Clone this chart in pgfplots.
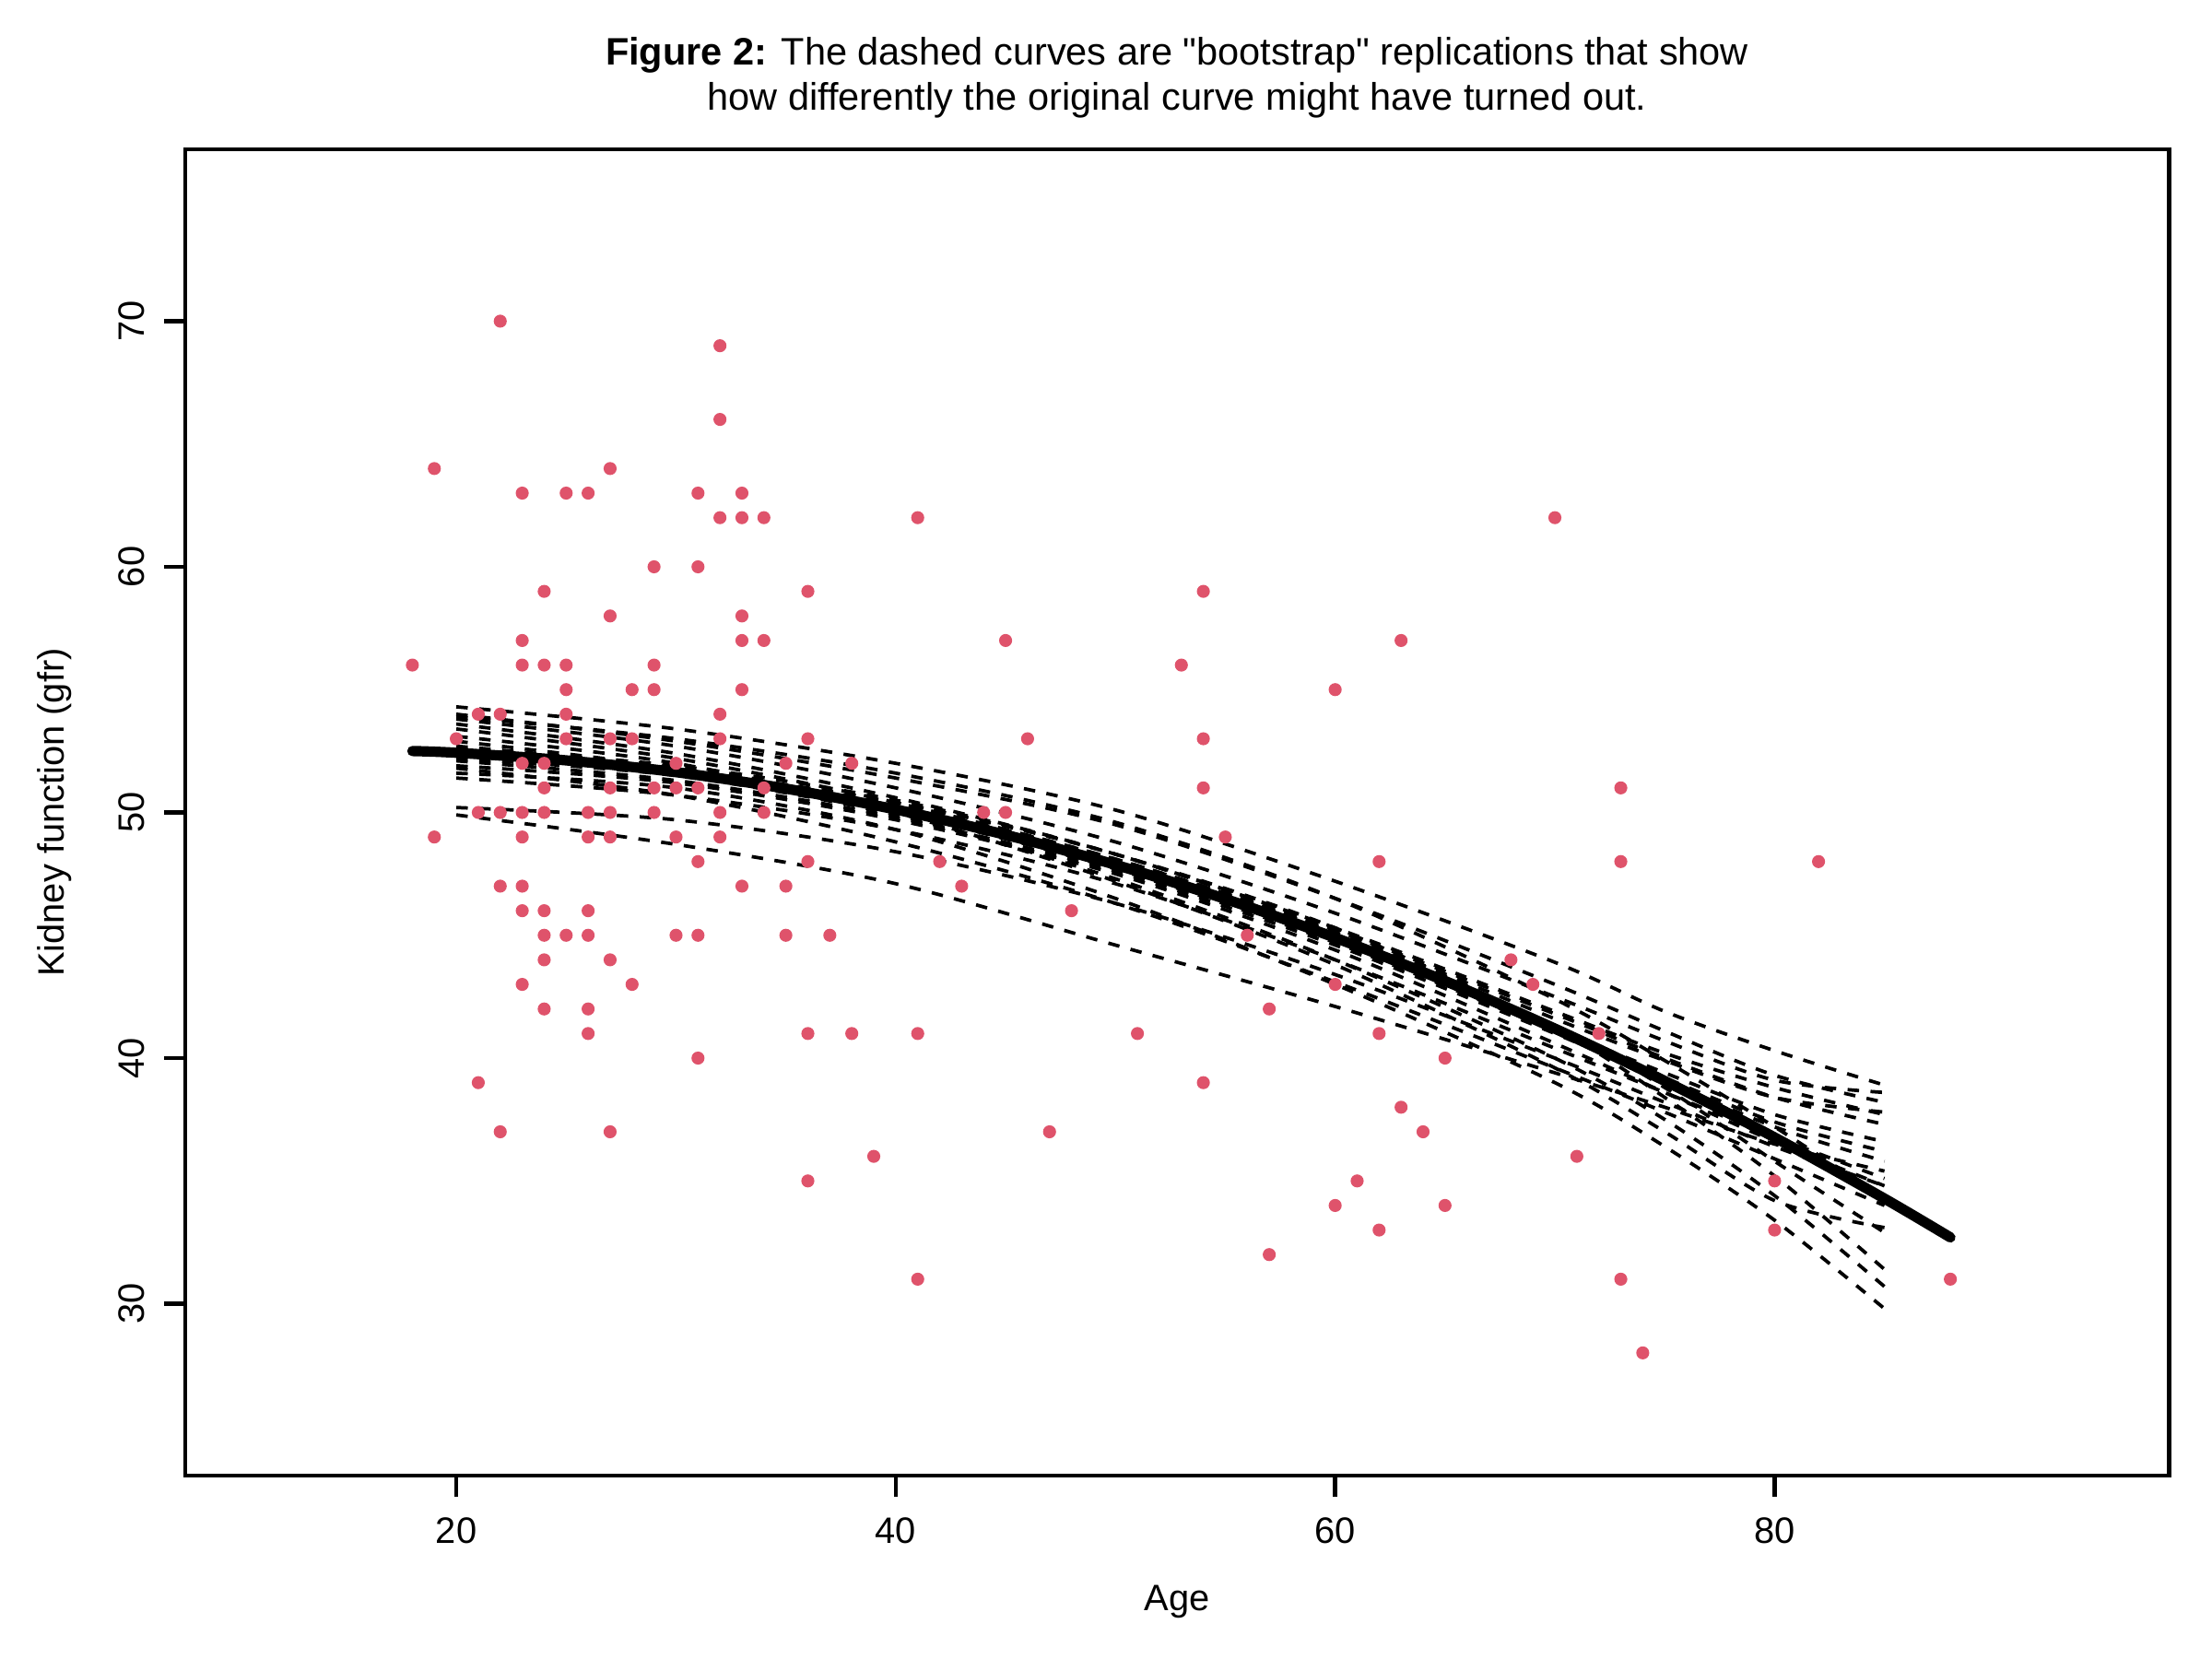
\documentclass[border=0pt]{standalone}
\usepackage{fontspec}
\setmainfont{Liberation Sans}[Ligatures=TeXOff]
\usepackage{pgfplots}
\pgfplotsset{compat=1.18}
\definecolor{rred}{HTML}{DF536B}

\pgfplotsset{
  boot/.style={black, line width=0.9pt, dash pattern=on 3pt off 3pt, smooth, tension=0.5},
}

\begin{document}
\begin{tikzpicture}
\path[use as bounding box] (-48.4pt,-47.9pt) rectangle (529.75pt,385.7pt);
\begin{axis}[
  at={(0,0)}, anchor=south west,
  scale only axis, width=518.5pt, height=346.7pt,
  xmin=7.66, xmax=97.95, ymin=23, ymax=77,
  xtick={20,40,60,80}, ytick={30,40,50,60,70},
  xtick pos=left, ytick pos=left,
  tick align=outside, major tick length=5.5pt,
  axis line style={line width=1.1pt},
  tick style={line width=1.1pt, black},
  /pgf/number format/assume math mode=true,
  tick label style={font=\fontsize{9.6}{11}\selectfont},
  xticklabel style={anchor=base},
  xticklabel shift=12.1pt,
  yticklabel style={rotate=90, anchor=base},
  yticklabel shift=5.2pt,
  clip=true,
]
% data points
\addplot[only marks, mark=*, mark size=1.5pt, color=rred] coordinates {
(22,70)(19,64)(27,64)(23,63)(25,63)(26,63)(29,60)(24,59)(27,58)(23,57)
(18,56)(23,56)(24,56)(25,56)(29,56)(25,55)(28,55)(29,55)(21,54)(22,54)
(25,54)(20,53)(25,53)(27,53)(28,53)(23,52)(24,52)(24,51)(27,51)(29,51)
(21,50)(22,50)(23,50)(24,50)(26,50)(27,50)(29,50)(19,49)(23,49)(26,49)
(27,49)(22,47)(23,47)(23,46)(24,46)(26,46)(24,45)(25,45)(26,45)(24,44)
(27,44)(23,43)(28,43)(24,42)(26,42)(26,41)(21,39)(22,37)(27,37)
(32,69)(32,66)(31,63)(33,63)(32,62)(33,62)(34,62)(41,62)(31,60)(36,59)
(33,58)(33,57)(34,57)(33,55)(32,54)(32,53)(36,53)(30,52)(35,52)(38,52)
(30,51)(31,51)(34,51)(32,50)(34,50)(30,49)(32,49)(31,48)(36,48)(33,47)
(35,47)(30,45)(31,45)(35,45)(37,45)(36,41)(38,41)(41,41)(31,40)(39,36)
(36,35)
(54,59)(45,57)(53,56)(60,55)(46,53)(54,53)(54,51)(55,49)(44,50)(45,50)
(42,48)(43,47)(48,46)(56,45)(60,43)(57,42)(51,41)(54,39)(47,37)(60,34)
(57,32)(41,31)
(70,62)(63,57)(73,51)(62,48)(73,48)(82,48)(68,44)(69,43)(72,41)(62,41)
(65,40)(63,38)(64,37)(71,36)(80,35)(61,35)(65,34)(62,33)(80,33)(73,31)
(88,31)(74,28)
};
% bootstrap replications
\addplot[boot] coordinates {(20,54.3)(30,53.4)(40,52.0)(50,50.1)(60,47.2)(70,43.9)(75,41.9)(80,40.3)(85,38.9)};
\addplot[boot] coordinates {(20,54.0)(30,52.9)(40,51.4)(50,49.5)(60,46.5)(70,43.0)(75,41.1)(80,39.3)(85,38.2)};
\addplot[boot] coordinates {(20,53.8)(30,52.7)(40,51.0)(50,48.8)(60,45.9)(70,42.5)(75,40.7)(80,39.1)(85,38.6)};
\addplot[boot] coordinates {(20,53.6)(30,52.4)(40,50.6)(50,48.3)(60,45.3)(70,41.9)(75,40.2)(80,38.8)(85,37.7)};
\addplot[boot] coordinates {(20,53.4)(30,52.2)(40,50.4)(50,48.1)(60,45.2)(70,41.8)(75,40.0)(80,38.4)(85,37.3)};
\addplot[boot] coordinates {(20,53.1)(30,52.0)(40,50.0)(50,47.2)(60,43.8)(70,39.6)(75,37.0)(80,34.2)(85,33.1)};
\addplot[boot] coordinates {(20,52.9)(30,51.8)(40,50.1)(50,47.8)(60,44.8)(70,41.2)(75,39.4)(80,37.7)(85,36.6)};
\addplot[boot] coordinates {(20,52.7)(30,51.8)(40,50.3)(50,48.1)(60,45.1)(70,41.3)(75,38.8)(80,35.8)(85,32.9)};
\addplot[boot] coordinates {(20,52.5)(30,51.6)(40,50.0)(50,47.7)(60,44.7)(70,41.1)(75,39.2)(80,37.4)(85,36.2)};
\addplot[boot] coordinates {(20,52.3)(30,51.7)(40,50.4)(50,48.3)(60,45.3)(70,41.2)(75,38.4)(80,35.2)(85,31.4)};
\addplot[boot] coordinates {(20,52.1)(30,51.3)(40,49.8)(50,47.6)(60,44.6)(70,41.0)(75,39.1)(80,37.2)(85,35.8)};
\addplot[boot] coordinates {(20,51.9)(30,51.2)(40,49.7)(50,47.5)(60,44.4)(70,40.6)(75,38.6)(80,36.6)(85,34.8)};
\addplot[boot] coordinates {(20,52.2)(30,51.5)(40,49.9)(50,47.3)(60,44.0)(70,40.0)(75,37.5)(80,34.4)(85,30.7)};
\addplot[boot] coordinates {(20,51.4)(30,50.7)(40,49.3)(50,47.1)(60,44.0)(70,40.4)(75,38.6)(80,36.8)(85,35.1)};
\addplot[boot] coordinates {(20,51.6)(30,51.0)(40,49.3)(50,46.5)(60,43.0)(70,39.0)(75,36.4)(80,33.4)(85,29.8)};
\addplot[boot] coordinates {(20,50.2)(30,49.7)(40,48.4)(50,46.3)(60,43.4)(70,40.0)(75,38.2)(80,36.4)(85,34.8)};
\addplot[boot] coordinates {(20,49.9)(30,48.7)(40,47.1)(50,44.6)(60,42.1)(70,39.4)(75,38.0)(80,36.5)(85,35.4)};
\addplot[boot] coordinates {(20,53.9)(30,53.0)(40,51.6)(50,49.6)(60,46.5)(70,42.4)(75,39.9)(80,37.2)(85,34.3)};
\addplot[boot] coordinates {(20,51.8)(30,50.7)(40,48.8)(50,46.3)(60,43.1)(70,39.6)(75,37.8)(80,35.9)(85,34.0)};
\addplot[boot] coordinates {(20,52.6)(30,51.9)(40,50.5)(50,48.3)(60,45.2)(70,41.6)(75,39.9)(80,38.4)(85,37.8)};
% original fit
\addplot[black, line width=2.7pt, smooth, line cap=round] coordinates {
(18,52.50)(20,52.43)(25,52.12)(30,51.64)(35,50.97)(40,50.12)(45,49.09)(50,47.87)
(55,46.48)(60,44.90)(65,43.14)(70,41.20)(75,39.07)(80,36.77)(85,34.28)(88,32.70)};
\end{axis}
\node[anchor=base, font=\fontsize{10}{12}\selectfont] at (259.25pt,368.8pt)
  {\textbf{Figure 2:} The dashed curves are "bootstrap" replications that show};
\node[anchor=base, font=\fontsize{10}{12}\selectfont] at (259.25pt,356.8pt)
  {how differently the original curve might have turned out.};
\node[anchor=base, font=\fontsize{9.6}{11}\selectfont] at (259.25pt,-35.2pt) {Age};
\node[anchor=base, rotate=90, font=\fontsize{9.6}{11}\selectfont] at (-31.6pt,173.35pt) {Kidney function (gfr)};
\end{tikzpicture}
\end{document}
